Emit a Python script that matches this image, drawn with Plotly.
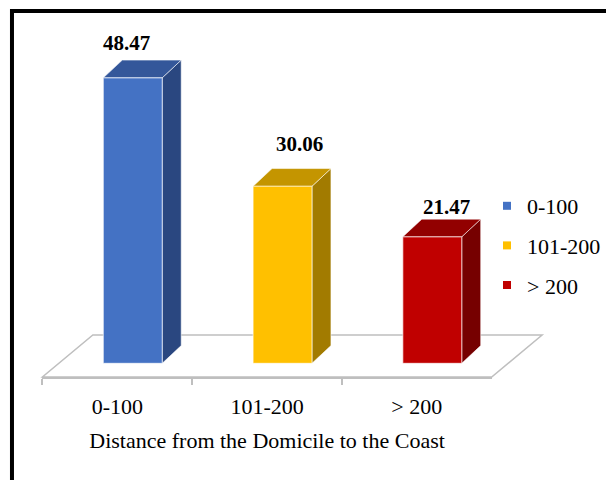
import plotly.graph_objects as go

# ---- data -------------------------------------------------------------
categories = ["0-100", "101-200", "> 200"]
values = [48.47, 30.06, 21.47]
axis_title = "Distance from the Domicile to the Coast"

# ---- styling ----------------------------------------------------------
front_colors = ["#4472C4", "#FFC000", "#C00000"]
top_colors = ["#34579A", "#C49500", "#920000"]
side_colors = ["#2A4780", "#A27B00", "#760000"]
edge_color = "rgba(255,255,255,0.55)"
floor_color = "#BFBFBF"
FONT = "Liberation Serif, Times New Roman, serif"

W, H = 606, 480

# pixel geometry of the oblique 3D projection
CAT0_PX = 133.0          # centre of first bar front face
CAT_STEP_PX = 150.0      # distance between categories
BASE_PX = 363.3          # baseline of bar front faces
PX_PER_UNIT = 5.89       # vertical pixels per value unit
BAR_W_PX = 59.0          # width of a bar front face
DEPTH_PX = (19.0, 17.7)  # bar depth offset (right, up)
FLOOR_FRONT_PX = (-15.5, -13.7)  # floor front edge relative to bar plane
FLOOR_BACK_PX = (35.0, 28.3)     # floor back edge relative to bar plane

# per-label nudges in px (right, up) relative to each bar's front top
label_nudge = [(-6, 35), (17, 42), (14, 30)]

dx = lambda px: px / CAT_STEP_PX
dy = lambda px: px / PX_PER_UNIT

x2_range = [-CAT0_PX / CAT_STEP_PX, (W - CAT0_PX) / CAT_STEP_PX]
y2_range = [-(H - BASE_PX) / PX_PER_UNIT, BASE_PX / PX_PER_UNIT]

bw = dx(BAR_W_PX)
ddx, ddy = dx(DEPTH_PX[0]), dy(DEPTH_PX[1])

fig = go.Figure()

# 3D bars: side and top faces as polygons, front face last
for i, (cat, v) in enumerate(zip(categories, values)):
    xl, xr = i - bw / 2, i + bw / 2
    fig.add_trace(go.Scatter(
        x=[xr, xr + ddx, xr + ddx, xr, xr],
        y=[0, ddy, v + ddy, v, 0],
        fill="toself", fillcolor=side_colors[i], mode="lines",
        line=dict(color=edge_color, width=1),
        xaxis="x2", yaxis="y2", showlegend=False, hoverinfo="skip"))
    fig.add_trace(go.Scatter(
        x=[xl, xr, xr + ddx, xl + ddx, xl],
        y=[v, v, v + ddy, v + ddy, v],
        fill="toself", fillcolor=top_colors[i], mode="lines",
        line=dict(color=edge_color, width=1),
        xaxis="x2", yaxis="y2", showlegend=False, hoverinfo="skip"))
    fig.add_trace(go.Scatter(
        x=[xl, xr, xr, xl, xl],
        y=[0, 0, v, v, 0],
        fill="toself", fillcolor=front_colors[i], mode="lines",
        line=dict(color=edge_color, width=1.2),
        xaxis="x2", yaxis="y2", showlegend=False, name=cat))
    fig.add_annotation(
        x=i, y=v, xref="x2", yref="y2", text=f"<b>{v:.2f}</b>",
        showarrow=False, xanchor="center", yanchor="middle",
        xshift=label_nudge[i][0], yshift=label_nudge[i][1],
        font=dict(family=FONT, size=21, color="black"))

# legend entries
for cat, col in zip(categories, front_colors):
    fig.add_trace(go.Scatter(
        x=[None], y=[None], mode="markers", name=cat, legendgroup=cat,
        marker=dict(symbol="square", size=8, color=col),
        xaxis="x2", yaxis="y2"))

# category axis carrier (floor-front plane)
fig.add_trace(go.Scatter(
    x=categories, y=[0, 0, 0], mode="markers", opacity=0,
    showlegend=False, hoverinfo="skip", xaxis="x", yaxis="y"))

# floor
fl, fr = -0.5, len(categories) - 0.5
fx0, fy0 = dx(FLOOR_FRONT_PX[0]), dy(FLOOR_FRONT_PX[1])
fx1, fy1 = dx(FLOOR_BACK_PX[0]), dy(FLOOR_BACK_PX[1])
floor_path = (f"M{fl + fx0},{fy0} L{fr + fx0},{fy0} "
              f"L{fr + fx1},{fy1} L{fl + fx1},{fy1} Z")
fig.add_shape(type="path", path=floor_path, xref="x2", yref="y2",
              layer="below", fillcolor="white",
              line=dict(color=floor_color, width=1.5))

# outer frame
fig.add_shape(type="rect", xref="paper", yref="paper",
              x0=12 / W, y0=-0.1, x1=1.1, y1=1 - 11 / H,
              line=dict(color="black", width=4), fillcolor="rgba(0,0,0,0)")

floor_front_y = BASE_PX - FLOOR_FRONT_PX[1]
x_left = CAT0_PX + FLOOR_FRONT_PX[0] - CAT_STEP_PX / 2
x_right = x_left + CAT_STEP_PX * len(categories)

fig.update_layout(
    width=W, height=H, autosize=False,
    margin=dict(l=0, r=0, t=0, b=0),
    paper_bgcolor="white", plot_bgcolor="rgba(0,0,0,0)",
    font=dict(family=FONT, size=22, color="black"),
    xaxis=dict(
        type="category", categoryorder="array", categoryarray=categories,
        domain=[x_left / W, x_right / W], range=[-0.5, len(categories) - 0.5],
        anchor="y", showgrid=False, zeroline=False,
        showline=True, linecolor=floor_color, linewidth=1.5,
        ticks="outside", tickson="boundaries", ticklen=6,
        tickcolor=floor_color, tickwidth=1.5, ticklabelstandoff=9,
        tickfont=dict(family=FONT, size=22, color="black"),
        title=dict(text=axis_title, standoff=14,
                   font=dict(family=FONT, size=22, color="black"))),
    yaxis=dict(domain=[1 - floor_front_y / H, 1], range=[0, 1],
               anchor="x", visible=False),
    xaxis2=dict(domain=[0, 1], range=x2_range, anchor="y2", visible=False),
    yaxis2=dict(domain=[0, 1], range=y2_range, anchor="x2", visible=False),
    showlegend=True,
    legend=dict(x=488 / W, y=1 - 185 / H, xanchor="left", yanchor="top",
                font=dict(family=FONT, size=22, color="black"),
                tracegroupgap=8, bgcolor="rgba(0,0,0,0)"),
)

fig.write_html("out.html")
